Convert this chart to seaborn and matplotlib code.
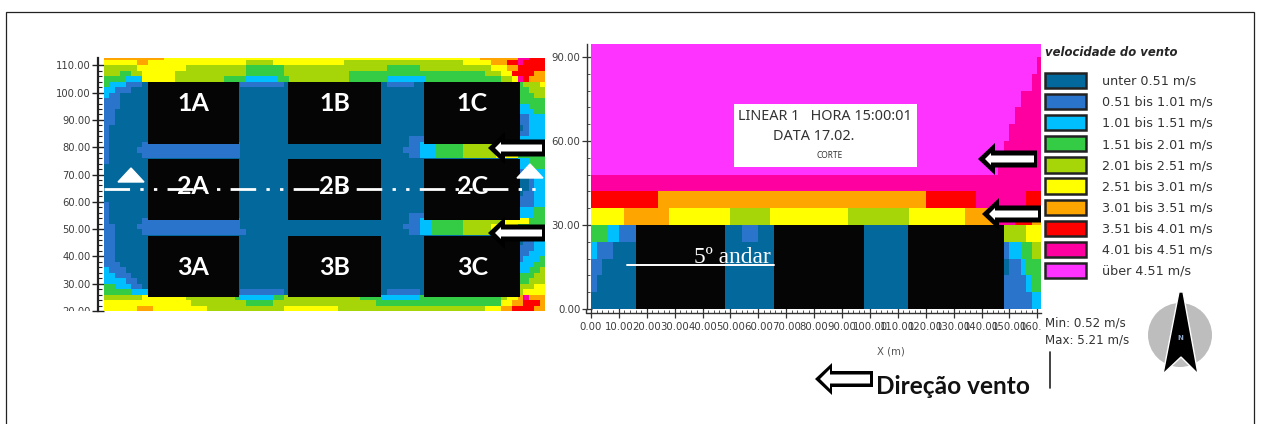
import matplotlib
matplotlib.use("Agg")
import matplotlib.pyplot as plt
import numpy as np
import seaborn as sns
from matplotlib.colors import ListedColormap
from matplotlib.patches import Patch, Polygon, Rectangle, Circle
from matplotlib.transforms import Bbox, TransformedBbox

W, H = 1264, 424

class_colors = ["#03689B", "#2A75CB", "#00BFFF", "#33CC44", "#A6D608",
                "#FFFF00", "#FFA500", "#FF0000", "#FF00A0", "#FF33FF"]
class_labels = ["unter 0.51 m/s", "0.51 bis 1.01 m/s", "1.01 bis 1.51 m/s",
                "1.51 bis 2.01 m/s", "2.01 bis 2.51 m/s", "2.51 bis 3.01 m/s",
                "3.01 bis 3.51 m/s", "3.51 bis 4.01 m/s", "4.01 bis 4.51 m/s",
                "\u00fcber 4.51 m/s"]

# planta: wind class per cell, one row per 2 m, top row first
plan_rows = [
    "6666666666 6555555555 5555555555 5555555555 5555555555 5555555555 5555555556 6666668877 7",
    "5555556655 5555555555 5555554444 4555555555 5555444444 4444444444 4444445555 5666778777 7",
    "4444445555 5555544444 4444443333 3334444444 4444444444 4433333344 4444444444 4555667777 7",
    "4443344555 5554444444 4444443333 3334444444 4444433333 3333333333 3333333333 4445577776 6",
    "3333222555 5554444444 4433332222 2233444444 4444433333 3322222223 3333333333 3334458766 6",
    "3222111000 0000000000 0000011111 1110000000 0000000000 0011111000 0000000000 0000003444 5",
    "2211100000 0000000000 0000000000 0000000000 0000000000 0000000000 0000000000 0000003344 4",
    "2110000000 0000000000 0000000000 0000000000 0000000000 0000000000 0000000000 0000003334 4",
    "1110000000 0000000000 0000000000 0000000000 0000000000 0000000000 0000000000 0000003333 3",
    "1110000000 0000000000 0000000000 0000000000 0000000000 0000000000 0000000000 0000002233 3",
    "1100000000 0000000000 0000000000 0000000000 0000000000 0000000000 0000000000 0000002223 3",
    "1100000000 0000000000 0000000000 0000000000 0000000000 0000000000 0000000000 0000001122 2",
    "1100000000 0000000000 0000000000 0000000000 0000000000 0000000000 0000000000 0000001122 2",
    "1000000000 0000000000 0000000000 0000000000 0000000000 0000000000 0000000000 0000000122 2",
    "1000000000 0000000000 0000000000 0000000000 0000000000 0000000000 0000000000 0000001122 2",
    "1000000000 0000000000 0000000000 0000000000 0000000000 0000001110 0000000000 0000002222 2",
    "1000000111 1111111111 1111100000 0000000000 0000000000 0000001122 2333334444 4444442233 3",
    "1000001111 1111111111 1111100000 0000000000 0000000000 0000011122 2333334444 4444442233 3",
    "1000000111 1111111111 1111100000 0000000000 0000000000 0000001122 2333334444 4455553333 3",
    "1000000000 0000000000 0000000000 0000000000 0000000000 0000000000 0000000000 0000002233 3",
    "0000000000 0000000000 0000000000 0000000000 0000000000 0000000000 0000000000 0000002233 3",
    "0000000000 0000000000 0000000000 0000000000 0000000000 0000000000 0000000000 0000001122 2",
    "0000000000 0000000000 0000000000 0000000000 0000000000 0000000000 0000000000 0000000012 2",
    "0000000000 0000000000 0000000000 0000000000 0000000000 0000000000 0000000000 0000000012 2",
    "0000000000 0000000000 0000000000 0000000000 0000000000 0000000000 0000000000 0000000012 2",
    "0000000000 0000000000 0000000000 0000000000 0000000000 0000000000 0000000000 0000000112 2",
    "0000000000 0000000000 0000000000 0000000000 0000000000 0000000000 0000000000 0000001112 2",
    "1000000000 0000000000 0000000000 0000000000 0000000000 0000000000 0000000000 0000001112 2",
    "1000000000 0000000000 0000000000 0000000000 0000000000 0000000000 0000000000 0000002223 3",
    "1000000000 0000000000 0000000000 0000000000 0000000000 0000001110 0000000000 0000002223 3",
    "1000000111 1111111111 1111100000 0000000000 0000000000 0000001122 3333334444 4445555533 3",
    "1100001111 1111111111 1111100000 0000000000 0000000000 0000011122 3333334444 4555553333 3",
    "1100000111 1111111111 1111110000 0000000000 0000000000 0000001122 3333334444 4555553333 3",
    "1100000000 0000000000 0000000000 0000000000 0000000000 0000000000 0000000000 0000003333 3",
    "1100000000 0000000000 0000000000 0000000000 0000000000 0000000000 0000000000 0000000112 2",
    "1100000000 0000000000 0000000000 0000000000 0000000000 0000000000 0000000000 0000001112 2",
    "1100000000 0000000000 0000000000 0000000000 0000000000 0000000000 0000000000 0000001122 2",
    "1100000000 0000000000 0000000000 0000000000 0000000000 0000000000 0000000000 0000001222 3",
    "1110000000 0000000000 0000000000 0000000000 0000000000 0000000000 0000000000 0000002223 3",
    "2111000000 0000000000 0000000000 0000000000 0000000000 0000000000 0000000000 0000002233 4",
    "2211100000 0000000000 0000000000 0000000000 0000000000 0000000000 0000000000 0000003334 4",
    "2222110000 0000000000 0000000000 0000000000 0000000000 0000000000 0000000000 0000003344 4",
    "3322211000 0000000000 0000000000 0000000000 0000000000 0000000000 0000000000 0000004445 5",
    "3333322200 0000000000 0000011111 1110000000 0000000000 0011111100 0000000000 0000004555 5",
    "4444444555 5555544444 4444322222 2334444444 4444444333 3222222233 3333333333 3334556866 6",
    "5555555555 5555554444 4444443333 3444444444 4444444444 3333333333 3333333333 3335566777 6",
    "5555556665 5555555554 4444444444 4445555555 5554444444 4444444444 4444444444 5556677776 6",
]

# corte: same classes, one row per 6 m of height, top row first
section_rows = [
    "9999999999 9999999999 9999999999 9999999999 9999999999 9999999999 9999999999 9999999999 9",
    "9999999999 9999999999 9999999999 9999999999 9999999999 9999999999 9999999999 9999999999 8",
    "9999999999 9999999999 9999999999 9999999999 9999999999 9999999999 9999999999 9999999998 8",
    "9999999999 9999999999 9999999999 9999999999 9999999999 9999999999 9999999999 9999999888 8",
    "9999999999 9999999999 9999999999 9999999999 9999999999 9999999999 9999999999 9999998888 8",
    "9999999999 9999999999 9999999999 9999999999 9999999999 9999999999 9999999999 9999988888 8",
    "9999999999 9999999999 9999999999 9999999999 9999999999 9999999999 9999999999 9999888888 8",
    "9999999999 9999999999 9999999999 9999999999 9999999999 9999999999 9999999999 9998888888 8",
    "8888888888 8888888888 8888888888 8888888888 8888888888 8888888888 8888888888 8888888888 8",
    "7777777777 7766666666 6666666666 6666666666 6666666666 6666666666 7777777778 8888888877 7",
    "5555556666 6666555555 5555544444 4455555555 5555554444 4444444555 5555555666 6668887776 6",
    "3332211100 0000000000 0000000111 0000000000 0000000000 0000000000 0000000000 0000444455 5",
    "2111000000 0000000000 0000000000 0000000000 0000000000 0000000000 0000000000 0000122334 4",
    "1100000000 0000000000 0000000000 0000000000 0000000000 0000000000 0000000000 0000011233 3",
    "1000000000 0000000000 0000000000 0000000000 0000000000 0000000000 0000000000 0000111123 3",
    "0000000000 0000000000 0000000000 0000000000 0000000000 0000000000 0000000000 0000111112 2",
]

plan_y_ticks = [30, 40, 50, 60, 70, 80, 90, 100, 110]
section_y_ticks = [0, 30, 60, 90]
section_x_ticks = list(range(0, 170, 10))

# building blocks in metres
plan_x0 = [16, 67.7, 117.7]
plan_x1 = [49.5, 101.7, 153]
plan_y_high = [104, 75.8, 47.6]
plan_y_low = [81.3, 53.4, 25.2]
plan_names = [["1A", "1B", "1C"], ["2A", "2B", "2C"], ["3A", "3B", "3C"]]
plan_name_y = [96, 65.5, 36]

section_x0 = [16, 65.6, 113.6]
section_x1 = [48, 97.8, 148]
section_height = 30


def grid(rows):
    return np.array([[int(c) for c in r.replace(" ", "")] for r in rows])


def place(l, t, r, b):
    return [l / W, 1 - b / H, (r - l) / W, (b - t) / H]


def clip_label(label, right, bottom):
    box = TransformedBbox(Bbox([[0, 1 - bottom / H], [right / W, 1]]), fig.transFigure)
    label.set_clip_box(box)
    label.set_clip_on(True)


sns.set_theme(style="white")
plt.rcParams["font.family"] = ["DejaVu Sans"]
cmap = ListedColormap(class_colors)
tick_color = "#3c3c3c"

fig = plt.figure(figsize=(W / 100, H / 100), dpi=100, facecolor="white")

# plan view
ax1 = fig.add_axes(place(104, 58, 545, 311))
sns.heatmap(grid(plan_rows), cmap=cmap, vmin=-0.5, vmax=9.5, cbar=False,
            xticklabels=False, yticklabels=False, ax=ax1)
ax1.set_ylim(47, 0.65)
ax1.set_xlim(0, 81)
for i in range(3):
    for j in range(3):
        ax1.add_patch(Rectangle((plan_x0[j] / 2, (114 - plan_y_high[i]) / 2),
                                (plan_x1[j] - plan_x0[j]) / 2,
                                (plan_y_high[i] - plan_y_low[i]) / 2,
                                facecolor="#050505", edgecolor="none"))
        ax1.text((plan_x0[j] + plan_x1[j]) / 4, (114 - plan_name_y[i]) / 2, plan_names[i][j],
                 color="white", fontsize=18, fontweight="bold", family="Lato",
                 ha="center", va="center")
ax1.set_yticks([(114 - v) / 2 for v in plan_y_ticks + [20]],
               labels=[f"{v:.2f}" for v in plan_y_ticks + [20]])
ax1.set_yticks([(114 - v) / 2 for v in range(22, 112, 2)], minor=True)
ax1.set_xticks([])
ax1.spines["left"].set_visible(True)
ax1.spines["left"].set_position(("outward", 4.5))
ax1.spines["left"].set_linewidth(1.6)
ax1.spines["left"].set_color("#222222")
ax1.tick_params(axis="y", which="major", direction="inout", length=8, width=1,
                labelsize=7.2, labelcolor=tick_color, pad=1, left=True, color="#222222")
ax1.tick_params(axis="y", which="minor", direction="in", length=3, width=0.8, left=True, color="#222222")

# section view
ax2 = fig.add_axes(place(591, 44, 1041, 309))
sns.heatmap(grid(section_rows), cmap=cmap, vmin=-0.5, vmax=9.5, cbar=False,
            xticklabels=False, yticklabels=False, ax=ax2)
ax2.set_ylim(16, 0.23)
ax2.set_xlim(0, 80.65)
for x0, x1 in zip(section_x0, section_x1):
    ax2.add_patch(Rectangle((x0 / 2, 16 - section_height / 6),
                            (x1 - x0) / 2, section_height / 6,
                            facecolor="#050505", edgecolor="none"))
ax2.set_yticks([16 - v / 6 for v in section_y_ticks], labels=[f"{v:.2f}" for v in section_y_ticks])
ax2.set_yticks([16 - v / 6 for v in range(6, 96, 6)], minor=True)
ax2.set_xticks([v / 2 for v in section_x_ticks], labels=[f"{v:.2f}" for v in section_x_ticks])
ax2.set_xticks(np.arange(0, 80.5, 1), minor=True)
for side in ["left", "bottom"]:
    ax2.spines[side].set_visible(True)
    ax2.spines[side].set_position(("outward", 3.2))
    ax2.spines[side].set_linewidth(1)
    ax2.spines[side].set_color("#333333")
ax2.tick_params(axis="both", which="major", direction="inout", length=7, width=0.9,
                labelsize=7.3, labelcolor=tick_color, left=True, bottom=True, color="#333333", pad=1)
ax2.tick_params(axis="x", which="major", pad=3)
ax2.tick_params(axis="both", which="minor", direction="in", length=2, width=0.6,
                left=True, bottom=True, color="#333333")
ax2.tick_params(axis="x", labelrotation=0)
plt.setp(ax2.get_yticklabels(), rotation=0)
plt.setp(ax1.get_yticklabels(), rotation=0)
clip_label(ax2.get_xticklabels()[-1], 1042, H)
clip_label(ax1.get_yticklabels()[-1], W, 311)

# everything else sits on a pixel overlay
ov = fig.add_axes([0, 0, 1, 1], zorder=5)
ov.set_xlim(0, W)
ov.set_ylim(H, 0)
ov.axis("off")
ov.patch.set_alpha(0)

ov.plot([6, 6, 1254, 1254], [H, 12, 12, H], color="#222222", lw=0.9, solid_joinstyle="miter")
ov.plot([586, 586, 591], [309, 313, 313], color="#333333", lw=1)


def arrow(tip, end, y, outer, inner):
    hl, hh, st = outer
    ov.add_patch(Polygon([(tip, y), (tip + hl, y - hh), (tip + hl, y - st), (end, y - st),
                          (end, y + st), (tip + hl, y + st), (tip + hl, y + hh)],
                         closed=True, facecolor="black", edgecolor="none"))
    il, ihl, ih, ist = inner
    ov.add_patch(Polygon([(tip + il, y), (tip + il + ihl, y - ih), (tip + il + ihl, y - ist),
                          (end - 3, y - ist), (end - 3, y + ist), (tip + il + ihl, y + ist),
                          (tip + il + ihl, y + ih)],
                         closed=True, facecolor="white", edgecolor="none"))


arrow(488, 545, 148, (17, 16, 8.5), (7, 6, 6, 3.5))
arrow(488, 545, 233, (17, 16, 8.5), (7, 6, 6, 3.5))
arrow(978, 1037, 159, (17, 16, 8.5), (7, 6, 6, 3.5))
arrow(982, 1041, 214, (17, 16, 8.5), (7, 6, 6, 3.5))
arrow(815, 873, 379, (17, 16, 8), (5, 10, 10, 4.5))

ov.add_patch(Polygon([(131, 168), (118, 182), (144, 182)], facecolor="white"))
ov.add_patch(Polygon([(530, 164), (517, 178), (543, 178)], facecolor="white"))
ov.plot([104, 541], [189, 189], color="white", lw=2, linestyle=(0, (9.2, 3.7, 1.2, 3.7, 1.2, 3.7)),
        dash_capstyle="butt")

ov.plot([627, 774], [265, 265], color="white", lw=1.4)
ov.text(732, 263, "5\u00ba andar", color="white", family="Liberation Serif", fontsize=16.8,
        ha="center", va="baseline")

ov.add_patch(Rectangle((734, 104), 183, 63, facecolor="white", edgecolor="none"))
ov.text(825, 117, "LINEAR 1   HORA 15:00:01", family="Noto Sans", fontsize=10.4, color="#333333",
        ha="center", va="center")
ov.text(814, 136, "DATA 17.02.", family="Noto Sans", fontsize=10.4, color="#333333", ha="center", va="center")
ov.text(830, 155, "CORTE", family="Noto Sans", fontsize=6, color="#333333", ha="center", va="center")

ov.text(891, 352, "X (m)", fontsize=7.3, color="#555555", ha="center", va="center")
ov.text(876, 386, "Dire\u00e7\u00e3o vento", family="Lato", fontweight="bold", fontsize=17.6, color="#111111",
        ha="left", va="center")
ov.plot([1050, 1050], [352, 388], color="#222222", lw=1.2)
ov.text(1045, 323, "Min: 0.52 m/s", fontsize=8.6, color="#333333", ha="left", va="center")
ov.text(1045, 340, "Max: 5.21 m/s", fontsize=8.6, color="#333333", ha="left", va="center")

ov.add_patch(Circle((1180, 335), 32, facecolor="#bdbdbd", edgecolor="none"))
ov.add_patch(Polygon([(1179, 292), (1183, 292), (1198, 374), (1181, 357), (1163, 374)], facecolor="black"))
ov.text(1180, 338, "N", fontsize=5, fontweight="bold", color="#8fa8c8", ha="center", va="center")

handles = [Patch(facecolor=c, edgecolor="#222222", linewidth=1.8) for c in class_colors]
legend = ov.legend(handles, class_labels, loc="upper left", bbox_to_anchor=(1045 / W, 1 - 46 / H),
                   bbox_transform=fig.transFigure, frameon=False, fontsize=9.2,
                   title="velocidade do vento", alignment="left",
                   title_fontproperties={"weight": "bold", "style": "italic", "size": 8.4},
                   handlelength=3.2, handleheight=1.45, handletextpad=1.3, labelspacing=0.465,
                   borderpad=0, borderaxespad=0, labelcolor="#333333")
legend._legend_box.sep = 10

fig.savefig("out.png", dpi=100)
